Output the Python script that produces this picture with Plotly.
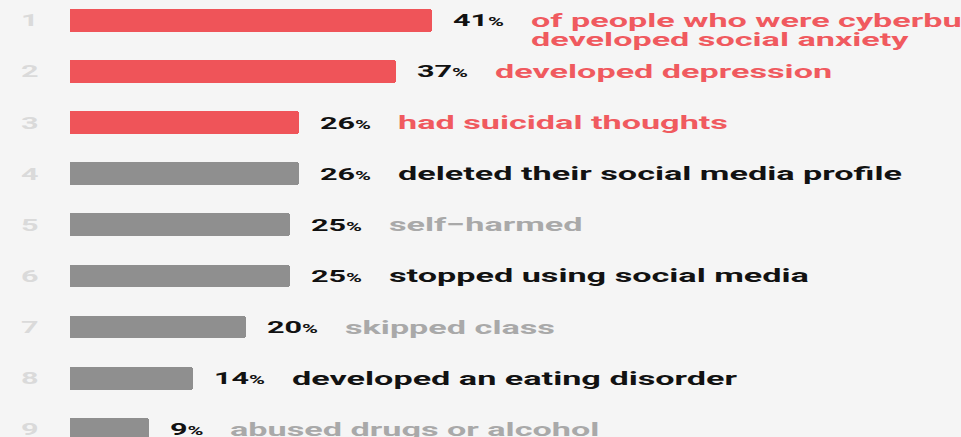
import plotly.graph_objects as go

# ---- data ----
ranks = [1, 2, 3, 4, 5, 6, 7, 8, 9]
values = [41, 37, 26, 26, 25, 25, 20, 14, 9]
labels = [
    "of people who were cyberbullied<br>developed social anxiety",
    "developed depression",
    "had suicidal thoughts",
    "deleted their social media profile",
    "self\u2212harmed",
    "stopped using social media",
    "skipped class",
    "developed an eating disorder",
    "abused drugs or alcohol",
]
groups = ["key", "key", "key", "strong", "muted", "strong", "muted", "strong", "muted"]

# ---- styles ----
RED = "#ef5459"
BAR_GRAY = "#8f8f8f"
bar_color = {"key": RED, "strong": BAR_GRAY, "muted": BAR_GRAY}
label_color = {"key": "#f05a5f", "strong": "#121212", "muted": "#a9a9a9"}
BG = "#f5f5f5"
FONT = "Roboto"

W, H = 961, 437
x_range = [-7.893, 100.94]
y_range = [9.15, 0.603]
upp = (x_range[1] - x_range[0]) / W  # data units per pixel

fig = go.Figure(
    go.Bar(
        x=values,
        y=ranks,
        orientation="h",
        width=0.444,
        marker=dict(color=[bar_color[g] for g in groups], cornerradius=3, line=dict(width=0)),
        hoverinfo="skip",
    )
)

annotations = []
for r, v, lab, g in zip(ranks, values, labels, groups):
    # rank number
    annotations.append(dict(
        xref="paper", yref="y", x=19 / W, y=r, xanchor="left", yanchor="middle",
        text=str(r), showarrow=False,
        font=dict(family=FONT, size=17, color="#dadada", weight=700),
    ))
    # percentage
    annotations.append(dict(
        xref="x", yref="y", x=v + 19 * upp, y=r, xanchor="left", yanchor="middle",
        text=f"{v}<span style='font-size:12px'>%</span>", showarrow=False,
        font=dict(family=FONT, size=17, color="#111111", weight=700),
    ))
    # label (possibly multi-line)
    off = 19 + 18 * len(str(v)) + 15 + 27
    for i, line in enumerate(lab.split("<br>")):
        annotations.append(dict(
            xref="x", yref="y", x=v + off * upp, y=r, xanchor="left", yanchor="middle",
            yshift=-19 * i, text=line, showarrow=False,
            font=dict(family=FONT, size=19, color=label_color[g], weight=700),
        ))

fig.update_layout(
    width=W, height=H, autosize=False,
    margin=dict(l=0, r=0, t=0, b=0, pad=0),
    paper_bgcolor=BG, plot_bgcolor=BG,
    showlegend=False,
    xaxis=dict(range=x_range, visible=False, fixedrange=True),
    yaxis=dict(range=y_range, visible=False, fixedrange=True),
    annotations=annotations,
    bargap=0,
)

post = """
document.body.style.margin = '0';
document.body.style.background = '%s';
var gd = document.getElementById('{plot_id}');
gd.querySelectorAll('text.annotation-text').forEach(function(t){
  t.style.transformBox = 'fill-box';
  t.style.transformOrigin = '0%% 50%%';
  t.style.transform = 'scaleX(1.8)';
});
""" % BG

fig.write_html("out.html", config={"displayModeBar": False}, post_script=post)
